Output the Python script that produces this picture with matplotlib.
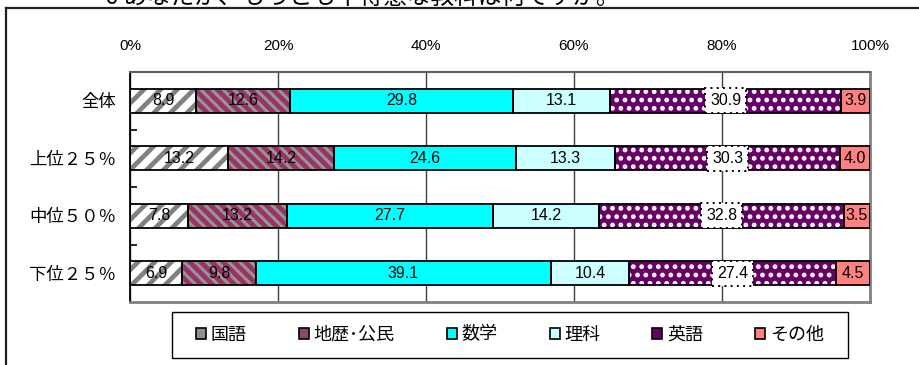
import matplotlib
matplotlib.use("Agg")
import matplotlib.pyplot as plt
from matplotlib.patches import Patch, Rectangle
from matplotlib.lines import Line2D

plt.rcParams['font.family'] = ['Liberation Sans', 'Noto Sans CJK JP', 'DejaVu Sans']

title = "6 あなたが、もっとも不得意な教科は何ですか。"
groups = ["全体", "上位２５％", "中位５０％", "下位２５％"]
subjects = ["国語", "地歴･公民", "数学", "理科", "英語", "その他"]
kokugo = [8.9, 13.2, 7.8, 6.9]
chireki = [12.6, 14.2, 13.2, 9.8]
sugaku = [29.8, 24.6, 27.7, 39.1]
rika = [13.1, 13.3, 14.2, 10.4]
eigo = [30.9, 30.3, 32.8, 27.4]
sonota = [3.9, 4.0, 3.5, 4.5]
series = [kokugo, chireki, sugaku, rika, eigo, sonota]
xticks = [0, 20, 40, 60, 80, 100]

# fill, hatch, hatch colour, hatch width, legend swatch colour
styles = [
    ("white", "//", "#808080", 3.4, "#909090"),
    ("#993366", "\\\\\\", "#969696", 2.2, "#8C4A72"),
    ("#00FFFF", None, None, 0, "#00FFFF"),
    ("#CCFFFF", None, None, 0, "#CCFFFF"),
    ("#660066", "..", "white", 2.2, "#660066"),
    ("#FF8080", None, None, 0, "#FF8080"),
]

# 100% stacked: each row is scaled to its own total
totals = [sum(col) for col in zip(*series)]
shares = [[v / t * 100 for v, t in zip(vals, totals)] for vals in series]

W, H = 919, 365
fig = plt.figure(figsize=(W / 100, H / 100), dpi=100)
ax = fig.add_axes([130 / W, 1 - 302 / H, 740 / W, 230 / H])

ypos = list(range(len(groups)))
bar_h = 0.42


def hatched_bar(y, width, left, fc, hatch, hc, hlw, zorder=2):
    ax.barh(y, width, left=left, height=bar_h, color=fc,
            linewidth=0, zorder=zorder)
    if hatch:
        hb = ax.barh(y, width, left=left, height=bar_h, color=fc,
                     edgecolor=hc, hatch=hatch, linewidth=0, zorder=zorder)
        for p in hb:
            if hasattr(p, "set_hatch_linewidth"):
                p.set_hatch_linewidth(hlw)
    ax.barh(y, width, left=left, height=bar_h, fill=False,
            edgecolor="black", linewidth=1.3, zorder=zorder + 1)


left = [0.0] * len(groups)
for i, (vals, pct, st) in enumerate(zip(series, shares, styles)):
    fc, hatch, hc, hlw, _ = st
    with plt.rc_context({"hatch.linewidth": hlw if hatch else 1.0}):
        hatched_bar(ypos, pct, left, fc, hatch, hc, hlw)
    for y, v, w, l in zip(ypos, vals, pct, left):
        kw = {}
        if i == 4:
            kw["bbox"] = dict(boxstyle="square,pad=0.3", facecolor="white",
                              edgecolor="black", linestyle=(0, (1, 2.2)), linewidth=1.4)
        ax.text(l + w / 2, y, f"{v:.1f}", ha="center", va="center",
                fontsize=11.5, color="black", zorder=5, **kw)
    left = [l + w for l, w in zip(left, pct)]

ax.set_xlim(0, 100)
ax.set_ylim(len(groups) - 0.5, -0.5)
ax.xaxis.tick_top()
ax.set_xticks(xticks)
ax.set_xticklabels([f"{t}%" for t in xticks], fontsize=11)
ax.tick_params(axis="x", length=0, pad=14)
ax.grid(axis="x", color="#404040", linewidth=1.0, zorder=0)
ax.set_axisbelow(True)

ax.set_yticks(ypos)
ax.set_yticklabels(groups, fontsize=12.5)
ax.tick_params(axis="y", which="major", length=0, pad=10)
ax.set_yticks([0.5, 1.5, 2.5], minor=True)
ax.tick_params(axis="y", which="minor", direction="in", length=5, width=1.2, color="black")

ax.spines["left"].set_color("black")
ax.spines["left"].set_linewidth(1.3)
ax.spines["top"].set_color("#606060")
ax.spines["top"].set_linewidth(1.5)
for s in ("right", "bottom"):
    ax.spines[s].set_color("#808080")
    ax.spines[s].set_linewidth(2.0)

# legend
handles = [Patch(facecolor=st[4], edgecolor="black", linewidth=1.2, label=name)
           for name, st in zip(subjects, styles)]
fig.legend(handles=handles, loc="center",
           bbox_to_anchor=((172 + 848) / 2 / W, 1 - (312 + 358) / 2 / H),
           ncol=6, frameon=False, handlelength=0.55, handleheight=0.55,
           handletextpad=0.25, columnspacing=2.9, prop={"size": 13})
fig.add_artist(Rectangle((172 / W, 1 - 358 / H), 676 / W, 46 / H,
                         transform=fig.transFigure, fill=False,
                         edgecolor="black", linewidth=1.0))

# outer frame, running off the right and bottom
fig.add_artist(Line2D([6 / W, 6 / W], [0, 1 - 8 / H], transform=fig.transFigure,
                      color="#202020", linewidth=1.6))
fig.add_artist(Line2D([6 / W, 1], [1 - 8 / H, 1 - 8 / H], transform=fig.transFigure,
                      color="#202020", linewidth=1.6))

fig.text(105 / W, 1 - 4 / H, title, fontsize=17, ha="left", va="baseline",
         family=["Noto Sans CJK JP", "DejaVu Sans"])

fig.savefig("out.png", dpi=100, facecolor="white")
